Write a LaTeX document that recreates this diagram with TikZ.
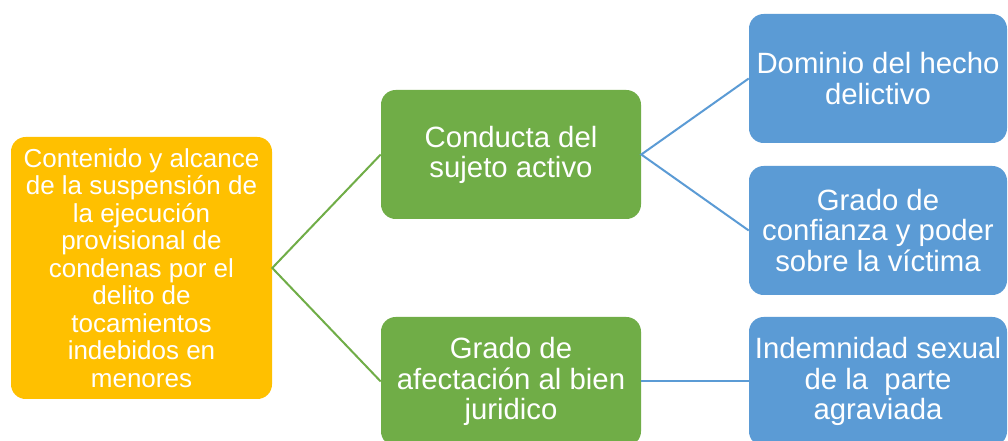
\documentclass[tikz,border=0pt]{standalone}
\usepackage{fontspec}
\setmainfont{Liberation Sans}
\definecolor{cOrange}{HTML}{FFC000}
\definecolor{cGreen}{HTML}{70AD47}
\definecolor{cBlue}{HTML}{5B9BD5}
\begin{document}
\begin{tikzpicture}[x=0.75pt,y=-0.75pt,
  box/.style={rounded corners=11pt, text=white, align=center, inner sep=0pt, draw=none},
  rootbox/.style={box, fill=cOrange, minimum width=195.75pt, minimum height=196.5pt, font=\fontsize{19.5}{20.6}\selectfont},
  midbox/.style={box, fill=cGreen, minimum width=195pt, minimum height=96.75pt, font=\fontsize{22}{22.6}\selectfont},
  leafbox/.style={box, fill=cBlue, minimum width=193.5pt, minimum height=96.75pt, font=\fontsize{22}{22.6}\selectfont},
  glink/.style={draw=cGreen, line width=1.5pt},
  blink/.style={draw=cBlue, line width=1.5pt}]
\useasboundingbox (0,0) rectangle (1008,441);
\clip (0,0) rectangle (1008,441);
\fill[white] (0,0) rectangle (1008,441);
\node[rootbox] (root) at (141.5,268) {Contenido y alcance\\de la suspensión de\\la ejecución\\provisional de\\condenas por el\\delito de\\tocamientos\\indebidos en\\menores};
\node[midbox] (m1) at (511,154.5) {Conducta del\\sujeto activo};
\node[midbox] (m2) at (511,381.5) {Grado de\\afectación al bien\\juridico};
\node[leafbox] (l1) at (878,78.5) {Dominio del hecho\\delictivo};
\node[leafbox] (l2) at (878,230.5) {Grado de\\confianza y poder\\sobre la víctima};
\node[leafbox] (l3) at (878,381.5) {Indemnidad sexual\\de la \ parte\\agraviada};
\draw[glink] (m1.west) -- (root.east) -- (m2.west);
\draw[blink] (l1.west) -- (m1.east) -- (l2.west);
\draw[blink] (m2.east) -- (l3.west);
\end{tikzpicture}
\end{document}
